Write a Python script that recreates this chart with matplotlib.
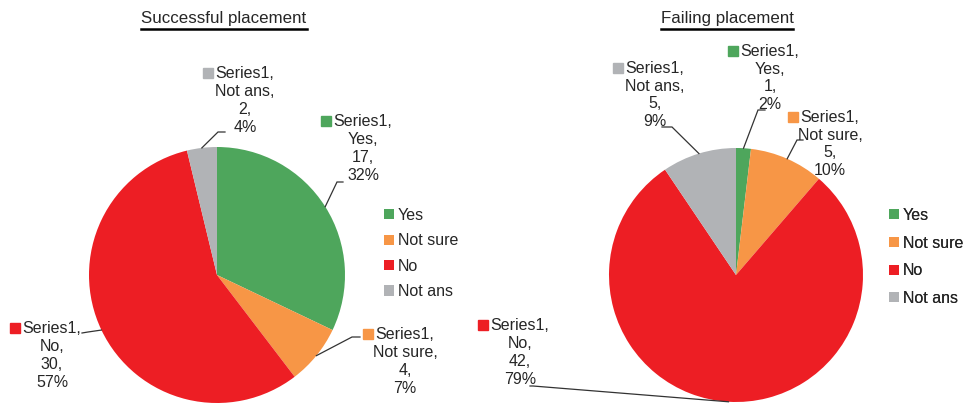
import numpy as np
import matplotlib.pyplot as plt

plt.rcParams['font.family'] = ['Liberation Sans', 'DejaVu Sans']

W, H = 965, 403

# ---------- Data ----------
categories = ['Yes', 'Not sure', 'No', 'Not ans']
colors = ['#4EA65C', '#F79646', '#ED1E24', '#B1B3B6']

success_counts = [17, 4, 30, 2]
success_pct = [32, 7, 57, 4]
fail_counts = [1, 5, 42, 5]
fail_pct = [2, 10, 79, 9]

# ---------- Layout (pixels, y from top) ----------
panels = [
    dict(title='Successful placement', counts=success_counts, pct=success_pct,
         center=(217, 275), radius=128, title_x=224,
         legend_xy=(376, 200), legend_sp=0.65,
         label_xy=[(363, 148.5), (405, 361.5), (52, 355.5), (245, 100.5)],
         # (start, elbow) of each leader line, the end is on the pie edge
         leaders=[((343, 182), (337, 182)), ((360, 337), (352, 337)),
                  ((82, 333), (88, 332)), ((225, 132), (218, 132))]),
    dict(title='Failing placement', counts=fail_counts, pct=fail_pct,
         center=(736, 275), radius=127, title_x=727,
         legend_xy=(881, 200), legend_sp=0.79,
         label_xy=[(770, 78), (830, 144), (520, 352.5), (655, 95)],
         leaders=[((765, 110), (758, 110)), ((803, 140), (797, 140)),
                  ((530, 386), (533, 386)), ((662, 127), (672, 127))]),
]

TXT = '#262626'
FS = 11.5

fig = plt.figure(figsize=(W / 100, H / 100), dpi=100)
ax = fig.add_axes([0, 0, 1, 1])

titles = []
for p in panels:
    cx, cy = p['center']
    r = p['radius']
    wedges, _ = ax.pie(p['counts'], colors=colors, startangle=90, counterclock=False,
                       center=(cx, H - cy), radius=r,
                       wedgeprops=dict(linewidth=0))

    for i, w in enumerate(wedges):
        mid = np.deg2rad((w.theta1 + w.theta2) / 2)
        ex, ey = cx + r * np.cos(mid), (H - cy) + r * np.sin(mid)
        (sx, sy), (bx, by) = p['leaders'][i]
        ax.plot([sx, bx, ex], [H - sy, H - by, ey], color='#333333', lw=0.9,
                solid_joinstyle='miter')

        lx, ly = p['label_xy'][i]
        txt = '\n'.join(['Series1,', f'{categories[i]},', f'{p["counts"][i]},',
                         f'{p["pct"][i]}%'])
        ax.text(lx, H - ly, txt, ha='center', va='center', fontsize=FS,
                linespacing=1.24, color=TXT)
        ax.plot(lx - 37, H - ly + 27.5, marker='s', ms=6.5, color=colors[i],
                linestyle='none')

    lg = ax.legend(wedges, categories, loc='upper left',
                   bbox_to_anchor=(p['legend_xy'][0], H - p['legend_xy'][1]),
                   bbox_transform=ax.transData, frameon=False, fontsize=FS,
                   handlelength=0.6, handleheight=0.6, handletextpad=0.25,
                   labelspacing=p['legend_sp'], borderpad=0, labelcolor=TXT)
    ax.add_artist(lg)

    titles.append(ax.text(p['title_x'], H - 18, p['title'], ha='center', va='center',
                          fontsize=12.2, color=TXT))

ax.set_xlim(0, W)
ax.set_ylim(0, H)
ax.set_aspect('auto')
ax.axis('off')

# underline the titles
fig.canvas.draw()
inv = ax.transData.inverted()
for t in titles:
    bb = t.get_window_extent().transformed(inv)
    ax.plot([bb.x0, bb.x1], [H - 29, H - 29], color='black', lw=1.8)

fig.savefig('out.png', dpi=100)
